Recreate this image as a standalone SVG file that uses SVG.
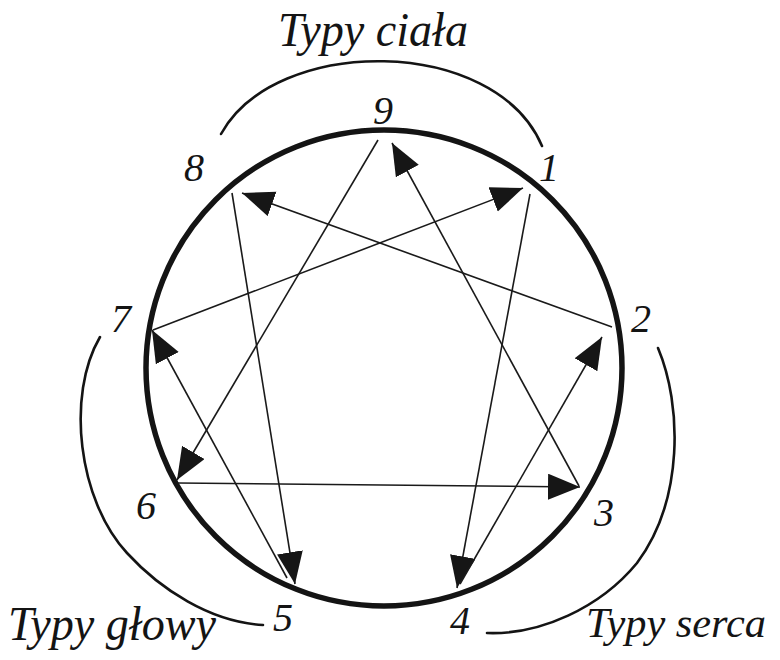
<svg xmlns="http://www.w3.org/2000/svg" width="780" height="660" viewBox="0 0 780 660">
<defs>
<marker id="ah" markerWidth="34" markerHeight="28" refX="32" refY="13" orient="auto" markerUnits="userSpaceOnUse">
<path d="M0,0 L32,13 L0,26 z" fill="#161616"/>
</marker>
<style>
.bg{fill:#ffffff}
.ring{fill:none;stroke:#141414;stroke-width:5.5}
.arc{fill:none;stroke:#141414;stroke-width:2.6;stroke-linecap:round}
.ln{fill:none;stroke:#1a1a1a;stroke-width:1.6;marker-end:url(#ah)}
.num{font-family:"Liberation Serif",serif;font-style:italic;font-size:40px;fill:#141414;text-anchor:middle}
.script{font-family:"Liberation Serif",serif;font-style:italic;font-size:48px;fill:#141414}
.script-sm{font-family:"Liberation Serif",serif;font-style:italic;font-size:42px;fill:#141414}
</style>
</defs>
<rect class="bg" x="0" y="0" width="780" height="660"/>
<g id="enneagram-circle">
<circle class="ring" cx="384" cy="368" r="238"/>
</g>
<g id="groups">
<g id="group-body">
<path class="arc" d="M221,134 C275,35 495,35 542,146"/>
<text class="script" x="278" y="46" textLength="190" lengthAdjust="spacingAndGlyphs">Typy ciała</text>
</g>
<g id="group-head">
<path class="arc" d="M100,337 C66,395 78,500 127,553 C160,589 210,622 263,625"/>
<text class="script" x="8" y="640" textLength="208" lengthAdjust="spacingAndGlyphs">Typy głowy</text>
</g>
<g id="group-heart">
<path class="arc" d="M658,348 C682,405 684,500 637,563 C600,608 540,635 487,633"/>
<text class="script-sm" x="586" y="637" textLength="180" lengthAdjust="spacingAndGlyphs">Typy serca</text>
</g>
</g>
<g id="connectors">
<path id="c9-6" class="ln" d="M378,140 L177,480"/>
<path id="c6-3" class="ln" d="M178,483 L580,487"/>
<path id="c3-9" class="ln" d="M579,486 L392,143"/>
<path id="c1-4" class="ln" d="M530,194 L457,588"/>
<path id="c4-2" class="ln" d="M460,584 L602,337"/>
<path id="c2-8" class="ln" d="M612,327 L242,193"/>
<path id="c8-5" class="ln" d="M232,193 L295,584"/>
<path id="c5-7" class="ln" d="M287,578 L152,330"/>
<path id="c7-1" class="ln" d="M153,330 L523,188"/>
</g>
<g id="node-9"><text class="num" x="383" y="124">9</text></g>
<g id="node-1"><text class="num" x="549" y="181">1</text></g>
<g id="node-2"><text class="num" x="641" y="332">2</text></g>
<g id="node-3"><text class="num" x="604" y="526">3</text></g>
<g id="node-4"><text class="num" x="460" y="634">4</text></g>
<g id="node-5"><text class="num" x="283" y="631">5</text></g>
<g id="node-6"><text class="num" x="146" y="519">6</text></g>
<g id="node-7"><text class="num" x="121" y="332">7</text></g>
<g id="node-8"><text class="num" x="194" y="181">8</text></g>
</svg>
